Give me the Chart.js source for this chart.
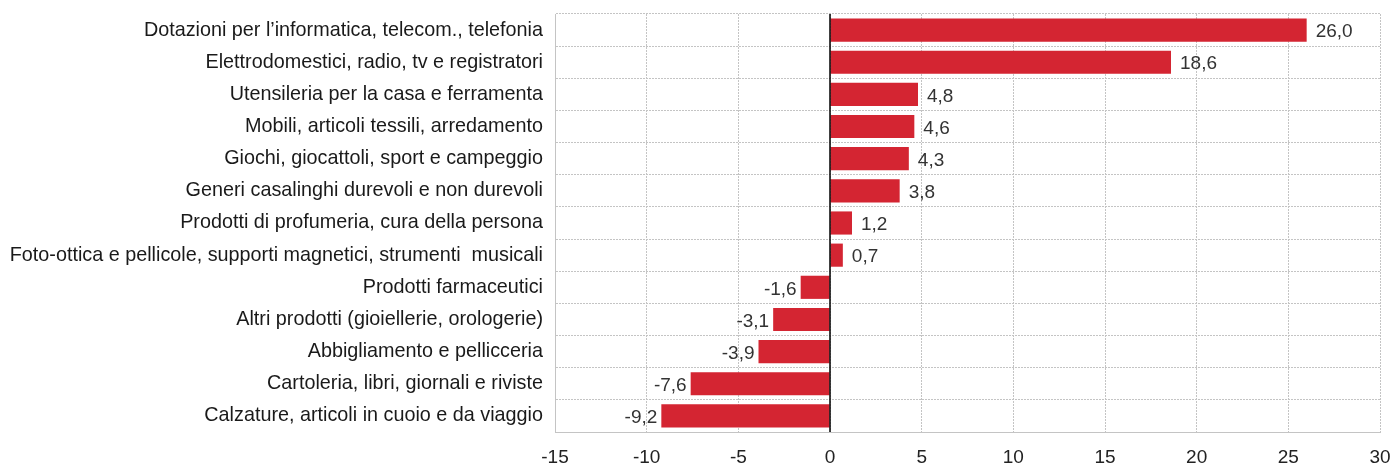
<!DOCTYPE html>
<html>
<head>
<meta charset="utf-8">
<script src="https://cdn.jsdelivr.net/npm/chart.js@4/dist/chart.umd.min.js"></script>
<style>
  html, body { margin: 0; padding: 0; background: #fff; }
  #wrap { width: 1395px; height: 470px; }
</style>
</head>
<body>
<div id="wrap"><canvas id="chart" width="1395" height="470"></canvas></div>
<script>
const categories = [
    'Dotazioni per l\u2019informatica, telecom., telefonia',
    'Elettrodomestici, radio, tv e registratori',
    'Utensileria per la casa e ferramenta',
    'Mobili, articoli tessili, arredamento',
    'Giochi, giocattoli, sport e campeggio',
    'Generi casalinghi durevoli e non durevoli',
    'Prodotti di profumeria, cura della persona',
    'Foto-ottica e pellicole, supporti magnetici, strumenti  musicali',
    'Prodotti farmaceutici',
    'Altri prodotti (gioiellerie, orologerie)',
    'Abbigliamento e pellicceria',
    'Cartoleria, libri, giornali e riviste',
    'Calzature, articoli in cuoio e da viaggio'
];
const values = [26.0, 18.6, 4.8, 4.6, 4.3, 3.8, 1.2, 0.7, -1.6, -3.1, -3.9, -7.6, -9.2];
const xTicks = [-15, -10, -5, 0, 5, 10, 15, 20, 25, 30];

const FONT = "'Liberation Sans Narrow', 'Arial Narrow', 'Liberation Sans', sans-serif";

const valueLabels = {
    id: 'valueLabels',
    afterDatasetsDraw(chart) {
        const ctx = chart.ctx;
        const meta = chart.getDatasetMeta(0);
        ctx.save();
        ctx.font = '19px ' + FONT;
        ctx.fillStyle = '#333';
        ctx.textBaseline = 'middle';
        meta.data.forEach(function (bar, i) {
            const v = values[i];
            const txt = v.toFixed(1).replace('.', ',');
            if (v >= 0) {
                ctx.textAlign = 'left';
                ctx.fillText(txt, bar.x + 9, bar.y + 2);
            } else {
                ctx.textAlign = 'right';
                ctx.fillText(txt, bar.x - 4, bar.y + 2);
            }
        });
        ctx.restore();
    }
};

const zeroLine = {
    id: 'zeroLine',
    afterDatasetsDraw(chart) {
        const x = chart.scales.x.getPixelForValue(0);
        const area = chart.chartArea;
        const ctx = chart.ctx;
        ctx.save();
        ctx.strokeStyle = '#000';
        ctx.lineWidth = 1.5;
        ctx.beginPath();
        ctx.moveTo(x, area.top);
        ctx.lineTo(x, area.bottom);
        ctx.stroke();
        ctx.restore();
    }
};

new Chart(document.getElementById('chart'), {
    type: 'bar',
    data: {
        labels: categories,
        datasets: [{
            data: values,
            backgroundColor: '#D42532',
            borderWidth: 0,
            barPercentage: 0.72,
            categoryPercentage: 1
        }]
    },
    options: {
        indexAxis: 'y',
        responsive: false,
        animation: false,
        layout: {
            padding: { top: 14, right: 0, left: 0, bottom: 0 }
        },
        plugins: {
            legend: { display: false },
            tooltip: { enabled: false }
        },
        scales: {
            x: {
                min: -15,
                max: 30,
                afterBuildTicks: function (scale) {
                    scale.ticks = xTicks.map(function (v) { return { value: v }; });
                },
                afterFit: function (scale) {
                    scale.height = 38;
                    scale.paddingRight = 15;
                },
                grid: {
                    color: '#c4c4c4',
                    lineWidth: 1,
                    drawTicks: false
                },
                border: { display: true, color: '#c4c4c4', dash: [2, 1] },
                ticks: {
                    color: '#222',
                    padding: 14,
                    font: { family: FONT, size: 19 },
                    maxRotation: 0
                }
            },
            y: {
                afterFit: function (scale) {
                    scale.width = 555;
                    scale.paddingTop = 0;
                    scale.paddingBottom = 0;
                },
                grid: {
                    color: '#c4c4c4',
                    lineWidth: 1,
                    drawTicks: false,
                    offset: true
                },
                border: { display: true, color: '#c4c4c4', dash: [2, 1] },
                ticks: {
                    color: '#1a1a1a',
                    padding: 12,
                    autoSkip: false,
                    font: { family: FONT, size: 19.8 }
                }
            }
        }
    },
    plugins: [valueLabels, zeroLine]
});
</script>
</body>
</html>
